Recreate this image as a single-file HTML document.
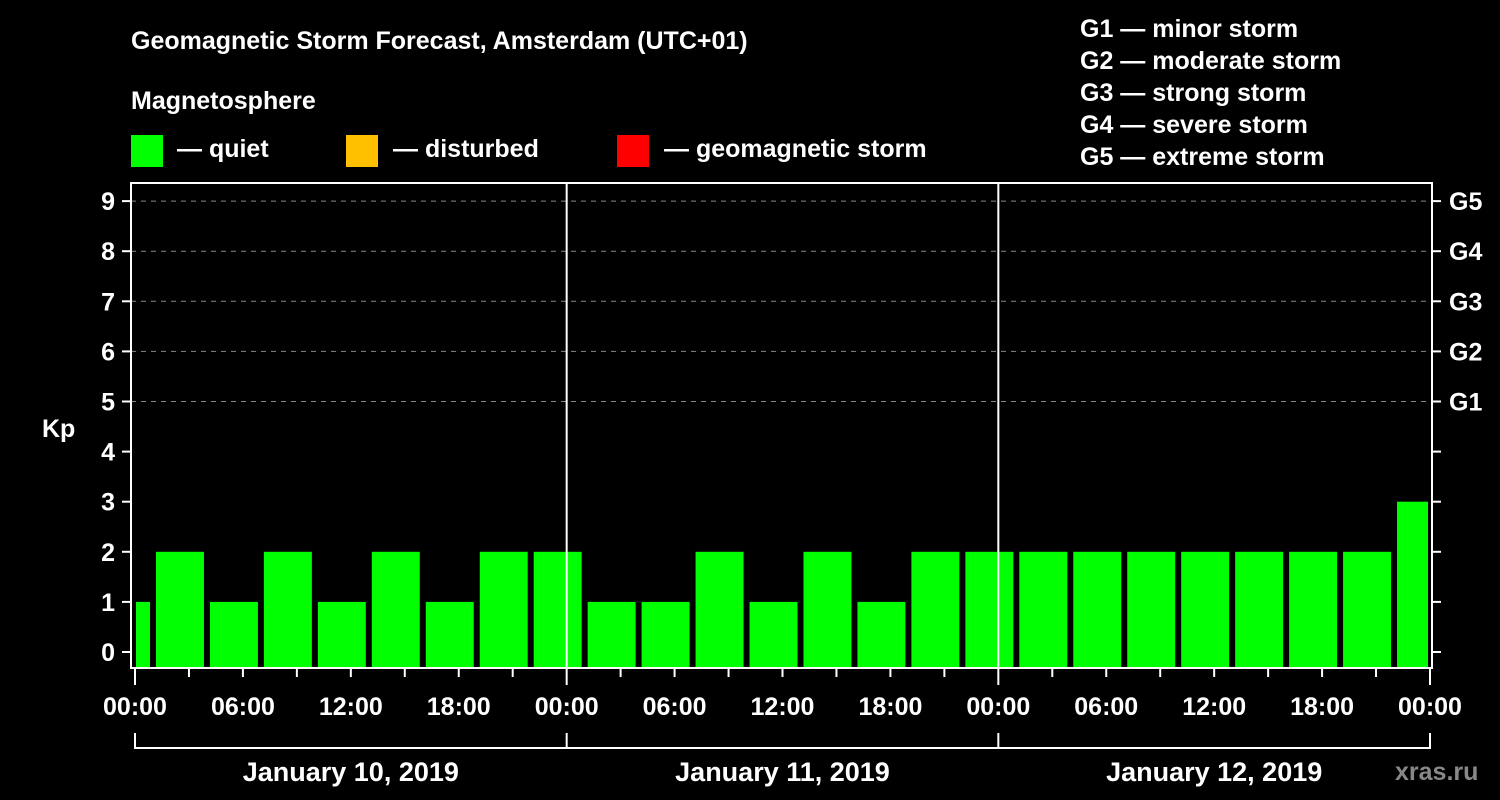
<!DOCTYPE html>
<html><head><meta charset="utf-8"><style>
html,body{margin:0;padding:0;background:#000;}
svg{display:block;font-family:"Liberation Sans",Arial,sans-serif;font-weight:bold;}
</style></head><body>
<svg id="chart" width="1500" height="800" viewBox="0 0 1500 800">
<text x="131" y="49" fill="#fff" font-size="25">Geomagnetic Storm Forecast, Amsterdam (UTC+01)</text>
<text x="131" y="109" fill="#fff" font-size="25">Magnetosphere</text>
<rect x="131" y="135" width="32" height="32" fill="#00ff00"/>
<text x="177" y="157" fill="#fff" font-size="25">— quiet</text>
<rect x="346" y="135" width="32" height="32" fill="#ffc000"/>
<text x="393" y="157" fill="#fff" font-size="25">— disturbed</text>
<rect x="617" y="135" width="32" height="32" fill="#ff0000"/>
<text x="664" y="157" fill="#fff" font-size="25">— geomagnetic storm</text>
<g fill="#fff" font-size="25">
<text x="1080" y="37">G1 — minor storm</text>
<text x="1080" y="69">G2 — moderate storm</text>
<text x="1080" y="101">G3 — strong storm</text>
<text x="1080" y="133">G4 — severe storm</text>
<text x="1080" y="165">G5 — extreme storm</text>
</g>
<text x="42" y="437" fill="#fff" font-size="25">Kp</text>
<g id="grid"></g>
<g id="bars"></g>
<g id="axes"></g>
<text x="1395" y="780" fill="#888" font-size="25">xras.ru</text>
</svg>
<script>
const kpValues = [1,2,1,2,1,2,1,2,2,1,1,2,1,2,1,2,2,2,2,2,2,2,2,2,3];
const yTicks = [0,1,2,3,4,5,6,7,8,9];
const gLabels = ["G1","G2","G3","G4","G5"];
const dayLabels = ["January 10, 2019","January 11, 2019","January 12, 2019"];
const hourLabels = ["00:00","06:00","12:00","18:00"];
const barStartHour = -2, barHours = 3, totalHours = 72;

const NS="http://www.w3.org/2000/svg";
const X0=135,X1=1430,YB=652,YU=50.1,TOP=183,BOT=668;
const x=h=>X0+(X1-X0)*h/totalHours;
const y=k=>YB-YU*k;
function mk(tag,attrs,parent){const e=document.createElementNS(NS,tag);for(const k in attrs)e.setAttribute(k,attrs[k]);parent.appendChild(e);return e;}
const grid=document.getElementById('grid'),bars=document.getElementById('bars'),axes=document.getElementById('axes');

yTicks.forEach(k=>{
  if(k>=5){const l=mk('line',{x1:131,x2:1432,y1:y(k),y2:y(k),stroke:'#888','stroke-width':1,'stroke-dasharray':'5,5'},grid);
  
  }
  const t=mk('line',{x1:122,x2:131,y1:y(k),y2:y(k),stroke:'#fff','stroke-width':2},axes);
  
  
  const t2=mk('line',{x1:1432,x2:1441,y1:y(k),y2:y(k),stroke:'#fff','stroke-width':2},axes);
  
  
  const lb=mk('text',{x:115,y:y(k)+9,fill:'#fff','font-size':25,'text-anchor':'end'},axes);
  lb.textContent=k;
  
  
});
gLabels.forEach((g,i)=>{
  const lb=mk('text',{x:1449,y:y(5+i)+9,fill:'#fff','font-size':25},axes);
  lb.textContent=g;
  
  
});

kpValues.forEach((v,i)=>{
  let h0=Math.max(0,barStartHour+i*barHours),h1=Math.min(totalHours,barStartHour+(i+1)*barHours);
  let a=x(h0)+(h0>0?3:1),b=x(h1)-(h1<totalHours?3:2);
  const c=v>=5?'#ff0000':(v>=4?'#ffc000':'#00ff00');
  const r=mk('rect',{x:a,y:y(v),width:b-a,height:BOT-y(v),fill:c},bars);
  
  
});

const fr=mk('rect',{x:131,y:TOP,width:1301,height:BOT-TOP,fill:'none',stroke:'#fff','stroke-width':2},axes);


[24,48].forEach(h=>{const l=mk('line',{x1:x(h),x2:x(h),y1:TOP,y2:BOT,stroke:'#fff','stroke-width':2},axes);

});

for(let h=0;h<=totalHours;h+=3){
  const major=h%24===0;
  const t=mk('line',{x1:x(h),x2:x(h),y1:BOT,y2:major?685:677,stroke:'#fff','stroke-width':2},axes);
  
  
  if(h%6===0){
    const lb=mk('text',{x:x(h),y:715,fill:'#fff','font-size':25,'text-anchor':'middle'},axes);
    lb.textContent=hourLabels[(h%24)/6];
    
    
  }
}
const br=mk('polyline',{points:`${x(0)},733 ${x(0)},748 ${x(72)},748 ${x(72)},733`,fill:'none',stroke:'#fff','stroke-width':2},axes);


dayLabels.forEach((d,i)=>{
  const l=mk('line',{x1:x(24*i),x2:x(24*i),y1:733,y2:748,stroke:'#fff','stroke-width':2},axes);
  
  
  const lb=mk('text',{x:x(24*i+12),y:781,fill:'#fff','font-size':27,'text-anchor':'middle'},axes);
  lb.textContent=d;
  
  
});
</script>
</body></html>
